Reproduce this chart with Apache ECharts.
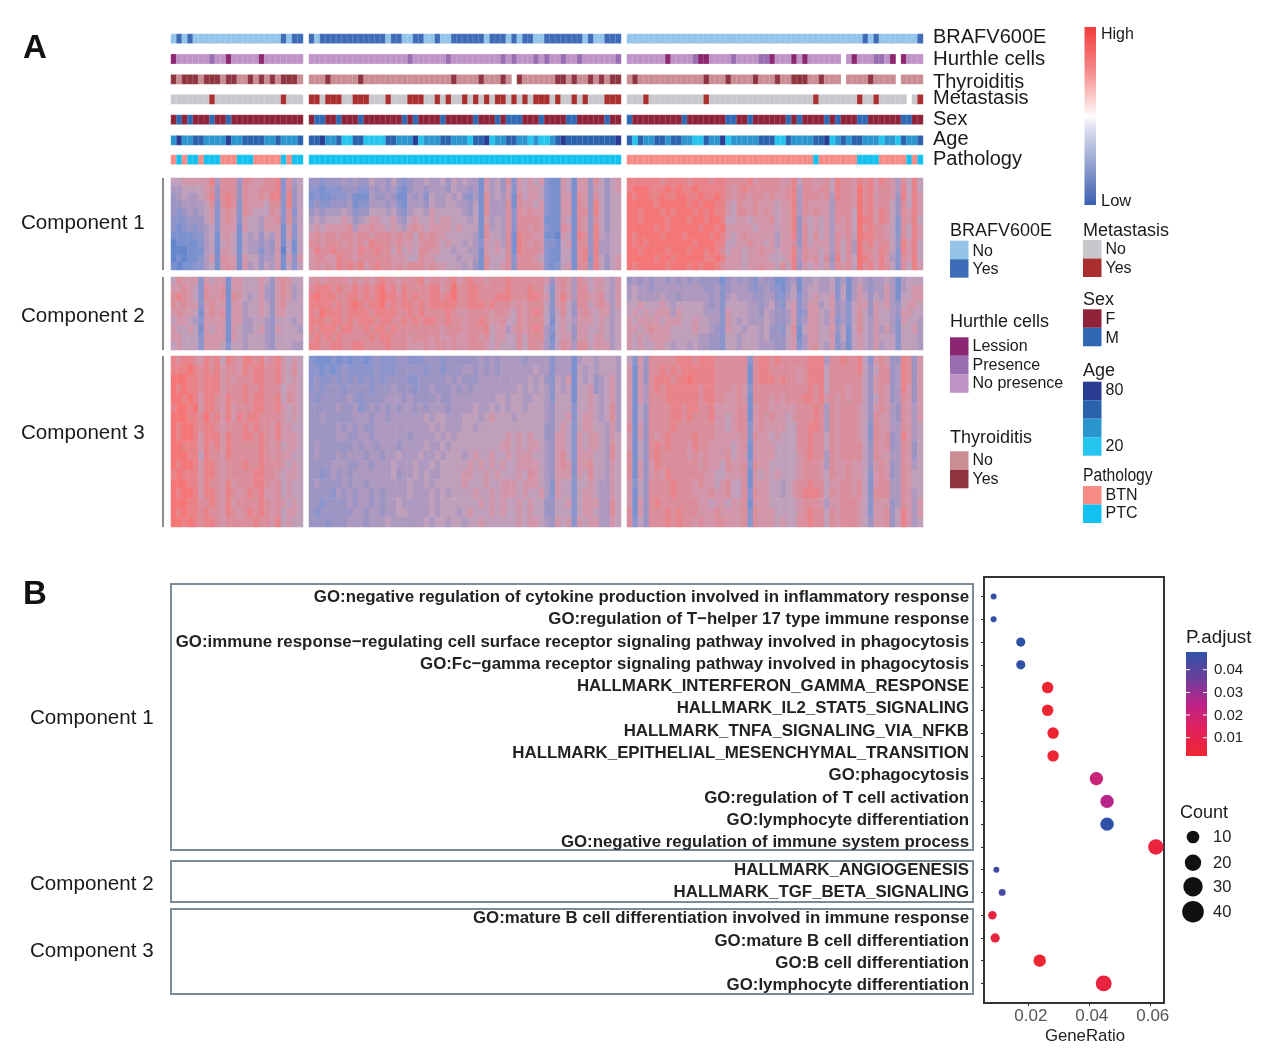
<!DOCTYPE html>
<html><head><meta charset="utf-8">
<style>html,body{margin:0;padding:0;background:#fff}#c{width:1264px;height:1057px}</style>
<script src="https://cdn.jsdelivr.net/npm/echarts@6/dist/echarts.min.js"></script>
</head><body><div id="c"></div>
<script>
// ---- annotation tracks (one character per sample, '-' = missing) ----
const trackNames = ['BRAFV600E','Hurthle cells','Thyroiditis','Metastasis','Sex','Age','Pathology'];
const brafB1 = '0101000000 0000000000 1011';
const brafB2 = '1011111111 1111011001 1001001111 1101110101 1001111111 0100111';
const brafB3 = '0000000000 0000000000 0000000000 0000000000 0001010000 0001';
const hurthleB1 = '0222222122 0222220222 2222';
const hurthleB2 = '2222222222 2222222212 2222212222 2222212122 2121221221 2222221';
const hurthleB3 = '2222222022 2210022221 2222110222 020222222- 202221120- 0222';
const thyroB1 = '1011101110 1100101010 1110';
const thyroB2 = '0001000001 0000000000 0000001000 0100010-10 0000011010 0101011';
const thyroB3 = '0100000000 0000100010 0001000100 111001000- 000010000- 0000';
const metaB1 = '0000000100 0000000000 1000';
const metaB2 = '1101110011 1000100011 1001010010 1010110101 0111010010 1000111';
const metaB3 = '0001000000 0000100000 0000000000 0000100000 0010010000 0-01';
const sexB1 = '0101000100 1000000000 0000';
const sexB2 = '0110010001 0000000101 0000100000 1000101110 0010000110 0000100';
const sexB3 = '1000000000 1000000011 0010000001 0100001010 0011000000 1100';
const ageB1 = '1311221111 3112222112 1112';
const ageB2 = '2231120022 0000221113 0111221110 2230112211 0100123222 2222223';
const ageB3 = '2021122122 1100211301 1111222002 1111223012 1221110110 2112';
const pathB1 = '0101101110 0011100000 1011';
const pathB2 = '1111111111 1111111111 1111111111 1111111111 1111111111 1111111';
const pathB3 = '0000000000 0000000000 0000000000 0000100000 0011110000 0101';

const trackColors = [
  ['#94c4ea','#3f6cb8'],
  ['#8d2672','#9a6db3','#bf92c8'],
  ['#c98d93','#8f3540'],
  ['#c8c7cc','#aa2e2e'],
  ['#8e2239','#2f68b5'],
  ['#25c5ef','#2b95cf','#2a62ae','#283c94'],
  ['#f78b85','#12c1ef']
];
const trackData = [
  [brafB1,brafB2,brafB3],[hurthleB1,hurthleB2,hurthleB3],[thyroB1,thyroB2,thyroB3],
  [metaB1,metaB2,metaB3],[sexB1,sexB2,sexB3],[ageB1,ageB2,ageB3],[pathB1,pathB2,pathB3]
];

// ---- expression heat map: 0 = low ... 9 = high ----
const c1b1 = ['556666 684777 377667 782745','445555 673777 376677 782735','345445 683787 376676 882835','334444 572787 276665 772835','323434 562676 276555 762725','222333 562676 265546 672735','212323 452666 165546 661625','111122 451665 154535 461625','011112 451565 154434 361515','000111 451665 154424 360515','010112 461766 165534 461626','101122 451676 164535 461525'];
const c1b2 = [
 '3323334343 3544353234 4544535454 4164537265 6562116516 6375356',
 '2212223332 2434342134 4344435443 4164536265 6652116516 6365356',
 '1211222311 1433431143 4254454532 4174546175 6652116617 6375355',
 '2322333412 2444342144 4354455443 5174447176 6562116617 6385355',
 '3434445423 3555453245 5465555543 5174447276 7662116617 7385355',
 '4545556534 5665564356 5565665554 5164547277 7761116517 6375355',
 '5656666746 6766565467 6566665655 5174547277 6762117617 6385355',
 '6767767767 7677767675 7676655555 4175547187 7661106518 7385455',
 '7767776767 6877767665 6776565545 4265647187 6762215617 7384455',
 '6877877768 7787757565 7766554554 4165657187 7762115517 8384455',
 '6776687767 7777766655 7665555455 4175557277 7652115517 8285356',
 '6767687878 6787767677 7676655545 3175567277 7762125617 7385356'];
const c1b3 = [
 '8888887888 8788878877 7786777766 8577667587 7687868764 7585',
 '8999888989 8898888876 7877777767 8477677587 7697867764 8585',
 '9899889889 9889889876 7767767667 8477767487 7697867763 8586',
 '9999989999 9898998865 7667666566 8476666477 7697867753 7586',
 '9989998989 9989898865 7767676566 8476766477 7597868753 7686',
 '9989999899 9899899855 6656667566 8365656476 7598868752 7685',
 '9999989899 9998998966 6665666566 8375656466 7597877652 7586',
 '9899998999 8999989865 6766666466 8375756476 7598877652 7586',
 '9898999999 9989998855 6676656466 7375666475 7497867753 8685',
 '9989999899 9899898756 6566766566 8476656475 7497768752 8685',
 '9999989989 9999889866 6566665556 8476757385 7598768642 7685',
 '9899999899 9898998766 6566766575 8365656476 7597868752 7586'];
const c2b1 = ['576662 656616 655565 367655','667652 766716 655564 367645','787652 766717 654564 367645','767662 676616 645565 367555','676651 676716 645565 366555','566542 666616 644554 355545','655651 656616 544564 365554','665552 666616 545554 355555','565552 666525 545554 355544'];
const c2b2 = [
 '6767777676 7678776777 8677678678 7767778777 7776367647 6566546',
 '7888787787 8789786877 7788679778 8777778777 8775267647 7566546',
 '8988877887 8789887878 7788789778 8777888777 8876268647 7667546',
 '8888787898 7889787887 8788888778 8878777676 7775267537 7567646',
 '8798887888 8788887787 8777787667 7776776576 7875257536 7656645',
 '8887887878 8878877878 7887787767 7876675576 7775156546 6656545',
 '8788878877 8788787777 7777677767 7785664676 7874256536 6556545',
 '7878787777 7878877767 7767667667 7675665575 7774156636 6566545',
 '8877887788 7777877766 6767767667 7765655575 7764257647 7566645'];
const c2b3 = [
 '3434344343 4343333134 3432433113 4144544524 1454344541 4555',
 '4544344444 4444334234 4432343213 5145544525 1464344641 4566',
 '4544445443 4444434245 4443344224 5245655625 1465354641 5566',
 '5565556545 5555434255 5544345325 6246645634 2566365643 5665',
 '5656566646 5555444265 5544354334 6236654634 2575365543 6655',
 '6566665666 5565544265 4544454334 6246654624 2575465542 6554',
 '6656766655 5565543265 5455453325 7156655635 1575464642 5564',
 '6565666655 5554433255 4555453335 6146655625 1565465552 5554',
 '6565566545 5454433255 4555444335 6246754624 1565464552 5554'];
const c3b1 = ['878876 878587 688786 786565','888987 878677 687887 786575','999887 888676 777887 786565','989887 888677 787787 775665','998986 887687 787887 785765','899896 887686 777887 786565','999887 978686 878877 776565','989987 887677 787877 686655','989986 888687 788787 686665','998886 878687 777787 675665','999885 877687 777787 676655','989986 887677 787787 776565','898886 887677 777887 765665','999886 877686 777887 675655','989986 887687 678786 675655','999887 787686 777787 676565','989887 877687 678787 675665','998987 887677 777877 685655'];
const c3b2 = [
 '2111212122 1232223322 2333233333 3434344443 4444244414 5545554',
 '2212123222 2232223333 3233233344 3434344444 4544244415 4545554',
 '2322323232 3232333322 3333343433 3444444444 5453254615 4534564',
 '2323332333 3233343332 3343334343 4444444454 5454254515 5634564',
 '3233333432 3333444343 3334334444 4444554554 4554255515 5654564',
 '3333343342 3434343443 4344434444 5445454554 5554355525 5654574',
 '3343333344 4344344444 4545544455 5456555455 5554355625 6654574',
 '3333343434 3344444444 4454544455 4555555555 5553356525 6655464',
 '3333344334 4344444434 4445454555 5555556565 6553366526 5665465',
 '3433333343 4434443444 4544545555 5555566565 6654366526 5665475',
 '3433343444 3443445444 5445455545 6556556566 6554367526 6655475',
 '3333444334 4344454445 4454555556 5656565566 6654367626 6755465',
 '3323434344 4444453445 4544555566 5565655565 7654366626 5755465',
 '3433334344 3444444454 4545555565 5565566656 6654265525 5654465',
 '3333243434 4343444454 4454545555 6556566656 5564265525 6654465',
 '3323333434 4343445444 4454555555 5656565565 6553355625 6664475',
 '3233333344 3443445544 4454555456 5556565565 6553355525 6654475',
 '3332333444 3444544444 4545545545 5655555565 6654365626 5664465'];
const c3b3 = [
 '5263777778 8878887777 7727887877 7778884778 7785267633 8736',
 '6163778787 8888887777 7717887777 7678885777 7785357734 8736',
 '6163788878 8988887777 7717888787 7678885777 7775367734 8736',
 '6164787888 8887887776 7627777777 7778785777 6775367634 8636',
 '6164777888 8887887766 7617776767 7788786767 6775357634 7636',
 '6153777788 7887786666 7716776666 6777874767 7765367643 7646',
 '6153777788 7877786656 7716767665 6777874767 7765376643 7646',
 '7163777787 7777776656 7726766665 5778874767 7765276644 7645',
 '6163767877 7787776666 6727665655 5778775767 7765276734 8645',
 '6153787877 7687766665 6716666555 5778775767 7775376734 7635',
 '7153787777 7676766675 6616666555 5678774767 7775376644 7635',
 '7163687777 7776766576 6727665555 5677764766 7665367634 7645',
 '7163676877 7777665566 6716565655 5677765766 7665267634 7655',
 '6253777787 7767665675 5716665545 6778775667 7675267744 7655',
 '6153777787 7766676675 5727665545 6788875767 7675277744 7645',
 '6163787777 7776656656 6716665555 5677764667 7765266634 7646',
 '7163777878 7776667666 6727666555 5678775767 7765266735 8646',
 '7253777878 7767667766 6727666565 5778775767 7765366735 8645'];
const heatData = [[c1b1,c1b2,c1b3],[c2b1,c2b2,c2b3],[c3b1,c3b2,c3b3]];
const heatColors = ['#6486cd','#7a90cf','#8b95cc','#9c95c4','#ad98bf','#c09fba','#d196aa','#da8d9b','#e88389','#f47676'];

// ---- enrichment dot plot ----
const terms = [
 'GO:negative regulation of cytokine production involved in inflammatory response',
 'GO:regulation of T\u2212helper 17 type immune response',
 'GO:immune response\u2212regulating cell surface receptor signaling pathway involved in phagocytosis',
 'GO:Fc\u2212gamma receptor signaling pathway involved in phagocytosis',
 'HALLMARK_INTERFERON_GAMMA_RESPONSE','HALLMARK_IL2_STAT5_SIGNALING','HALLMARK_TNFA_SIGNALING_VIA_NFKB',
 'HALLMARK_EPITHELIAL_MESENCHYMAL_TRANSITION','GO:phagocytosis','GO:regulation of T cell activation',
 'GO:lymphocyte differentiation','GO:negative regulation of immune system process',
 'HALLMARK_ANGIOGENESIS','HALLMARK_TGF_BETA_SIGNALING',
 'GO:mature B cell differentiation involved in immune response','GO:mature B cell differentiation',
 'GO:B cell differentiation','GO:lymphocyte differentiation'];
const geneRatio = [.0088,.0088,.0177,.0177,.0265,.0265,.0283,.0283,.0425,.0460,.0460,.0620,.0097,.0116,.0084,.0093,.0239,.0449];
const counts = [3,3,7,7,11,11,11,11,15,15,15,20,3,4,6,7,13,21];
const padjust = [.046,.047,.048,.048,.003,.003,.003,.003,.021,.026,.048,.006,.044,.044,.007,.007,.003,.006];
const ratioTicks = [0.02,0.04,0.06];

// ---- layout ----
const blocks = [{l:171,r:303,n:24},{l:309,r:621,n:57},{l:627,r:923,n:54}];
const trackY = [[34,43.3],[54.3,63.7],[74.7,84],[94.7,104],[115,124.3],[135.7,145],[155,164.3]];
const heatY = [[178,270],[277,350],[356,527]];
const termY = [596,618,641,663,685,707,730,752,774,797,819,841,869,891,917,940,962,984];

const clean = s => s.replace(/ /g,'');
const grid=[],xAxis=[],yAxis=[],series=[],trackIdx=[],heatIdx=[];
const palette=[]; const offsets=[];
trackColors.forEach(cs=>{offsets.push(palette.length);cs.forEach(c=>palette.push(c));});
const W=1264,H=1057;
function addGrid(l,r,t,b,n,m){
  grid.push({left:l,top:t,width:r-l,height:b-t,containLabel:false});
  const i=grid.length-1;
  xAxis.push({type:'category',gridIndex:i,show:false,data:Array.from({length:n},(_,k)=>k)});
  yAxis.push({type:'category',gridIndex:i,show:false,inverse:true,data:Array.from({length:m},(_,k)=>k)});
  return i;
}
trackData.forEach((tb,t)=>{
  tb.forEach((str,b)=>{
    const s=clean(str),bk=blocks[b];
    const g=addGrid(bk.l,bk.r,trackY[t][0],trackY[t][1],bk.n,1);
    const d=[];
    for(let k=0;k<s.length;k++){ if(s[k]!=='-') d.push([k,0,offsets[t]+Number(s[k])]); }
    trackIdx.push(series.length);
    series.push({type:'heatmap',name:trackNames[t],xAxisIndex:g,yAxisIndex:g,data:d,silent:true,progressive:0,
      itemStyle:{borderColor:'rgba(255,255,255,0.3)',borderWidth:0.5}});
  });
});
heatData.forEach((rows,c)=>{
  rows.forEach((rs,b)=>{
    const bk=blocks[b];
    const g=addGrid(bk.l,bk.r,heatY[c][0],heatY[c][1],bk.n,rs.length);
    const d=[];
    rs.forEach((r,y)=>{const s=clean(r);for(let k=0;k<s.length;k++)d.push([k,y,Number(s[k])]);});
    heatIdx.push(series.length);
    series.push({type:'heatmap',xAxisIndex:g,yAxisIndex:g,data:d,silent:true,progressive:0});
  });
});
// dot plot
grid.push({left:984,top:577,width:180,height:426,show:true,borderColor:'#333',borderWidth:2,backgroundColor:'#fff'});
const dg=grid.length-1;
xAxis.push({type:'value',gridIndex:dg,position:'bottom',min:0.00564,max:0.06467,splitLine:{show:false},axisLine:{show:false,onZero:false},
  axisTick:{show:true,length:3,lineStyle:{color:'#333'},customValues:ratioTicks},
  axisLabel:{color:'#555',fontSize:17,fontFamily:'Liberation Sans',margin:5,padding:[0,0,0,6],customValues:ratioTicks,formatter:v=>v.toFixed(2)}});
yAxis.push({type:'value',gridIndex:dg,inverse:true,min:-0.86,max:17.86,splitLine:{show:false},axisLine:{show:false,onZero:false},
  axisTick:{show:true,length:3,lineStyle:{color:'#333'},customValues:terms.map((_,i)=>i)},
  axisLabel:{show:false}});
const dotIdx=series.length;
series.push({type:'scatter',xAxisIndex:dg,yAxisIndex:dg,silent:true,itemStyle:{opacity:1},
  data:terms.map((_,i)=>[geneRatio[i],i,counts[i],padjust[i]]),
  symbolSize:v=>3.46*Math.sqrt(v[2])});

// ---- text and legends ----
const F='"Liberation Sans",Arial,sans-serif';
const gfx=[];
function txt(x,y,text,size,o={}){
  const el={type:'text',silent:true,style:{x,y:y+1.5,text,font:(o.w||'normal')+' '+size+'px '+F,fill:o.c||'#1a1a1a',align:o.a||'left',verticalAlign:'middle'}};
  if(o.sx){el.scaleX=o.sx;el.originX=x;}
  gfx.push(el);
}
function rect(x,y,w,h,fill,o={}){gfx.push({type:'rect',silent:true,shape:{x,y,width:w,height:h},style:Object.assign({fill},o)});}
function line(x1,y1,x2,y2,stroke,lw){gfx.push({type:'line',silent:true,shape:{x1,y1,x2,y2},style:{stroke,lineWidth:lw}});}
txt(23,47,'A',33,{w:'bold',c:'#111'}); txt(23,593,'B',33,{w:'bold',c:'#111'});
[36,58,81,97,118,138,158].forEach((y,i)=>txt(933,y,trackNames[i],i===1?20.4:20));
[['Component 1',222],['Component 2',315],['Component 3',432]].forEach(([t,y])=>txt(21,y,t,20.6));
heatY.forEach(([a,b])=>line(163,a,163,b,'#666',1.5));
// High/Low bar
rect(1084.5,27,11.5,178,{type:'linear',x:0,y:0,x2:0,y2:1,colorStops:[{offset:0,color:'#f23b3b'},{offset:.25,color:'#f58b8b'},{offset:.47,color:'#fdecec'},{offset:.5,color:'#ffffff'},{offset:.55,color:'#e6e6f3'},{offset:.75,color:'#9aa8d3'},{offset:1,color:'#3a5fb0'}]});
txt(1101,33,'High',16); txt(1101,200,'Low',16.5);
function legend(title,x,ty,swY,colors,labels,labelY,sx){
  txt(x,ty,title,18,sx?{sx}:{});
  colors.forEach((c,i)=>rect(x,swY+i*18.5,18.5,18.5,c));
  labels.forEach((l,i)=>txt(x+22.5,labelY[i],l,16));
}
legend('BRAFV600E',950,230,240.7,trackColors[0],['No','Yes'],[250,268]);
legend('Hurthle cells',950,321,337.3,trackColors[1],['Lession','Presence','No presence'],[345,364,382]);
legend('Thyroiditis',950,437,451.3,trackColors[2],['No','Yes'],[459,478]);
legend('Metastasis',1083,230,240,trackColors[3],['No','Yes'],[248,267]);
legend('Sex',1083,299,309.3,trackColors[4],['F','M'],[318,337]);
legend('Age',1083,370,381.7,trackColors[5].slice().reverse(),['80','20'],[389,445]);
legend('Pathology',1083,475,486,trackColors[6],['BTN','PTC'],[494,512],0.87);
// panel B boxes
[[584,850],[861,902],[909,994]].forEach(([a,b])=>rect(171,a,802,b-a,'none',{stroke:'#7b8b97',lineWidth:2}));
[['Component 1',717],['Component 2',883],['Component 3',950]].forEach(([t,y])=>txt(30,y,t,20.6));
terms.forEach((t,i)=>txt(969,termY[i],t,16.85,{w:'bold',a:'right',c:'#222'}));
txt(1085,1035,'GeneRatio',16.8,{a:'center',c:'#222'});
// P.adjust bar
txt(1186,636,'P.adjust',18.8);
rect(1186,652,21,104,{type:'linear',x:0,y:0,x2:0,y2:1,colorStops:[{offset:0,color:'#2f52a8'},{offset:.25,color:'#6a3f9c'},{offset:.5,color:'#bd2388'},{offset:.75,color:'#e2235a'},{offset:1,color:'#ee2530'}]});
[[.04,669.7],[.03,692.5],[.02,715],[.01,737.7]].forEach(([v,y])=>{
  line(1186,y,1190,y,'#fff',1);line(1203,y,1207,y,'#fff',1);
  txt(1214,y-1,v.toFixed(2),15,{c:'#222'});
});
txt(1180,812,'Count',18);
[[10,837,6.3],[20,862.7,8.2],[30,886.7,9.7],[40,911.7,10.8]].forEach(([n,y,r])=>{
  gfx.push({type:'circle',silent:true,shape:{cx:1193,cy:y,r},style:{fill:'#111'}});
  txt(1213,y-1,String(n),16.5,{c:'#222'});
});

const chart=echarts.init(document.getElementById('c'),null,{renderer:'canvas',width:W,height:H});
chart.setOption({
  animation:false,backgroundColor:'#fff',tooltip:{show:false},
  grid,xAxis,yAxis,series,graphic:gfx,
  visualMap:[
    {type:'piecewise',show:false,seriesIndex:trackIdx,dimension:2,pieces:palette.map((c,i)=>({value:i,color:c}))},
    {type:'continuous',show:false,seriesIndex:heatIdx,dimension:2,min:0,max:9,inRange:{color:heatColors}},
    {type:'continuous',show:false,seriesIndex:dotIdx,dimension:3,min:0.0022,max:0.048,inRange:{color:['#ee2530','#e2235a','#bd2388','#6a3f9c','#2f52a8']}}
  ]
});
</script></body></html>
